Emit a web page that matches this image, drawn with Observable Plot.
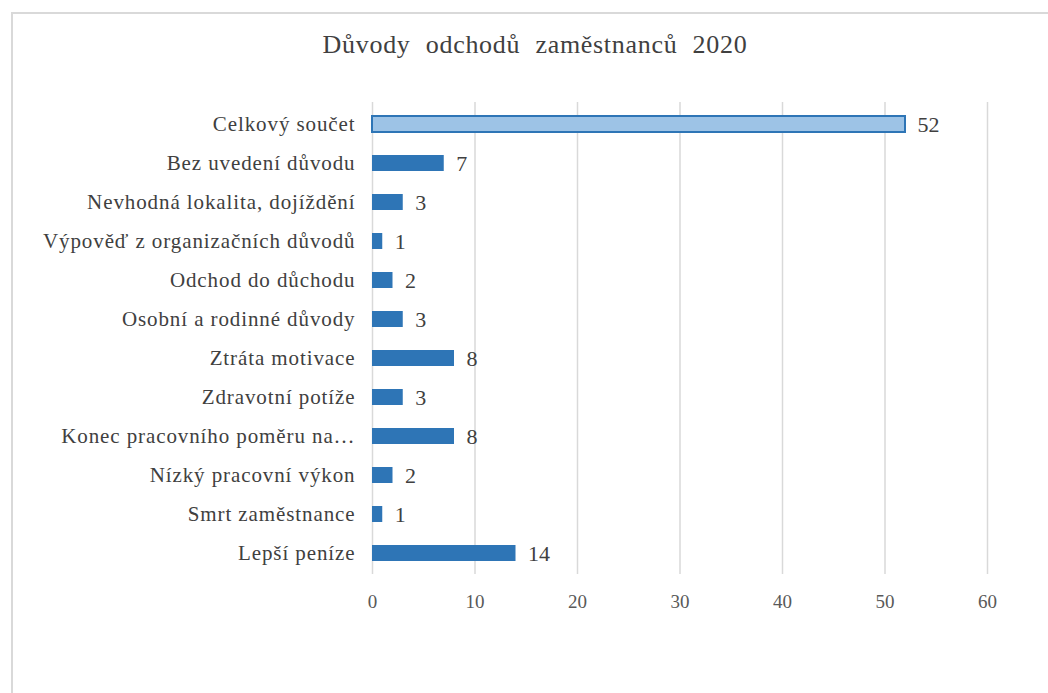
<!DOCTYPE html>
<html>
<head>
<meta charset="utf-8">
<script src="https://cdn.jsdelivr.net/npm/d3@7"></script>
<script src="https://cdn.jsdelivr.net/npm/@observablehq/plot@0.6"></script>
<style>
  html, body { margin: 0; padding: 0; background: #fff; }
  #wrap { position: relative; width: 1048px; height: 693px; overflow: hidden; background: #fff; }
  #frame { position: absolute; left: 11px; top: 12px; width: 1200px; height: 900px; border: 2px solid #d9d9d9; box-sizing: border-box; }
  #title { position: absolute; top: 30px; left: 0; width: 1070px; text-align: center;
           font-family: 'Liberation Serif', 'Times New Roman', serif; font-size: 26px; word-spacing: 8px; letter-spacing: 0.7px; color: #404040; }
  #chart { position: absolute; left: 0; top: 0; }
  #chart svg, #chart svg text { font-family: 'Liberation Serif', 'Times New Roman', serif !important; }
  #chart svg g[aria-label="y-axis tick label"] text { letter-spacing: 0.9px; }
</style>
</head>
<body>
<div id="wrap">
  <div id="frame"></div>
  <div id="chart"></div>
  <div id="title">Důvody odchodů zaměstnanců 2020</div>
</div>
<script>
const categories = [
  "Celkový součet",
  "Bez uvedení důvodu",
  "Nevhodná lokalita, dojíždění",
  "Výpověď z organizačních důvodů",
  "Odchod do důchodu",
  "Osobní a rodinné důvody",
  "Ztráta motivace",
  "Zdravotní potíže",
  "Konec pracovního poměru na…",
  "Nízký pracovní výkon",
  "Smrt zaměstnance",
  "Lepší peníze"
];
const values = [52, 7, 3, 1, 2, 3, 8, 3, 8, 2, 1, 14];
const xTicks = [0, 10, 20, 30, 40, 50, 60];
const totalCategory = "Celkový součet";

const data = categories.map((c, i) => ({ cat: c, value: values[i] }));
const totalData = data.filter(d => d.cat === totalCategory);
const restData = data.filter(d => d.cat !== totalCategory);

const serif = "'Liberation Serif', 'Times New Roman', serif";

const chart = Plot.plot({
  width: 1048,
  height: 693,
  marginLeft: 372,
  marginRight: 61,
  marginTop: 102,
  marginBottom: 119,
  style: { fontFamily: serif, background: "transparent", color: "#404040" },
  x: { domain: [0, 60], ticks: xTicks, label: null },
  y: { domain: categories, paddingInner: 0.59, paddingOuter: 0.3, label: null },
  marks: [
    Plot.gridX(xTicks, { stroke: "#d9d9d9", strokeOpacity: 1, strokeWidth: 1.5 }),
    Plot.barX(restData, { x: "value", y: "cat", fill: "#2e75b6" }),
    Plot.barX(totalData, { x: "value", y: "cat", fill: "#9dc3e6", stroke: "#2e75b6", strokeWidth: 2 }),
    Plot.text(data, { x: "value", y: "cat", text: d => String(d.value), dx: 12, dy: 0, textAnchor: "start", fontSize: 22, fontFamily: serif, fill: "#404040" }),
    Plot.axisX({ ticks: xTicks, tickSize: 0, tickPadding: 20, fontSize: 19, fontFamily: serif, fill: "#595959", label: null }),
    Plot.axisY({ tickSize: 0, tickPadding: 17, fontSize: 21, fontFamily: serif, fill: "#404040", label: null })
  ]
});
document.getElementById("chart").appendChild(chart);
</script>
</body>
</html>
